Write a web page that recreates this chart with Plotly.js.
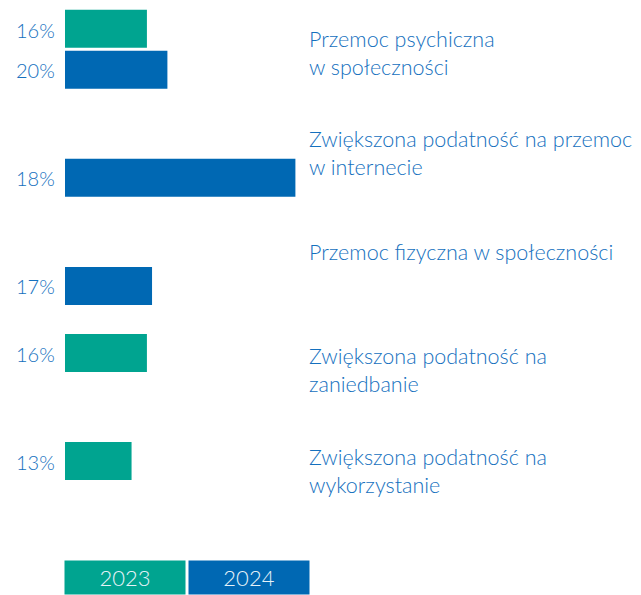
<!DOCTYPE html>
<html>
<head>
<meta charset="utf-8">
<script src="https://cdn.plot.ly/plotly-3.0.1.min.js"></script>
<style>html,body{margin:0;padding:0;background:#fff;}#chart{width:641px;height:595px;}</style>
</head>
<body>
<div id="chart"></div>
<script>
// ---- data ----
const categories = [
  "Przemoc psychiczna<br>w społeczności",
  "Zwiększona podatność na przemoc<br>w internecie",
  "Przemoc fizyczna w społeczności",
  "Zwiększona podatność na<br>zaniedbanie",
  "Zwiększona podatność na<br>wykorzystanie"
];
const years = ["2023", "2024"];
// bar lengths as drawn in the picture
const val2023 = [16, null, null, 16, 13];
const val2024 = [20, 45, 17, null, null];
// printed value labels
const lbl2023 = ["16%", null, null, "16%", "13%"];
const lbl2024 = ["20%", "18%", "17%", null, null];

// ---- style ----
const teal = "#00A490";
const blue = "#0068B3";
const txt = "#1470BE";
const font = "Lato, 'Open Sans', sans-serif";
const ids = categories.map((c, i) => "c" + i);

const traces = [
  {type: "bar", orientation: "h", name: years[0], y: ids, x: val2023,
   marker: {color: teal}, hoverinfo: "skip", showlegend: false},
  {type: "bar", orientation: "h", name: years[1], y: ids, x: val2024,
   marker: {color: blue}, hoverinfo: "skip", showlegend: false}
];

const annotations = [];
const labelShift = [-4, 4, 13, 4, 11];
categories.forEach((c, i) => {
  annotations.push({xref: "paper", yref: "y", x: 0.421, y: ids[i], text: c,
    xanchor: "left", yanchor: "middle", align: "left", showarrow: false,
    yshift: labelShift[i], font: {family: font, size: 21.5, color: txt, weight: 300}});
  if (lbl2023[i]) annotations.push({xref: "x", yref: "y", x: 0, y: ids[i], text: lbl2023[i],
    xanchor: "right", yanchor: "middle", showarrow: false, xshift: -8, yshift: 19.5,
    font: {family: font, size: 20, color: txt, weight: 300}});
  if (lbl2024[i]) annotations.push({xref: "x", yref: "y", x: 0, y: ids[i], text: lbl2024[i],
    xanchor: "right", yanchor: "middle", showarrow: false, xshift: -8, yshift: -20.5,
    font: {family: font, size: 20, color: txt, weight: 300}});
});
// legend boxes
[[years[0], teal, 0.1042], [years[1], blue, 0.3194]].forEach(([t, col, px]) => {
  annotations.push({xref: "paper", yref: "paper", x: px, y: -0.0694, text: t,
    xanchor: "center", yanchor: "middle", showarrow: false, bgcolor: col,
    width: 120, height: 33, borderpad: 0,
    font: {family: font, size: 22, color: "#E6F2F8", weight: 300}});
});

const layout = {
  width: 641, height: 595,
  margin: {l: 65, r: 0, t: 0, b: 55},
  paper_bgcolor: "#fff", plot_bgcolor: "#fff",
  barmode: "group", bargap: 0.241, bargroupgap: 0.0732,
  xaxis: {range: [0, 112.5], visible: false, fixedrange: true},
  yaxis: {type: "category", range: [4.54, -0.455], visible: false, fixedrange: true},
  annotations: annotations,
  showlegend: false
};

Plotly.newPlot("chart", traces, layout, {displayModeBar: false, staticPlot: true});
</script>
</body>
</html>
